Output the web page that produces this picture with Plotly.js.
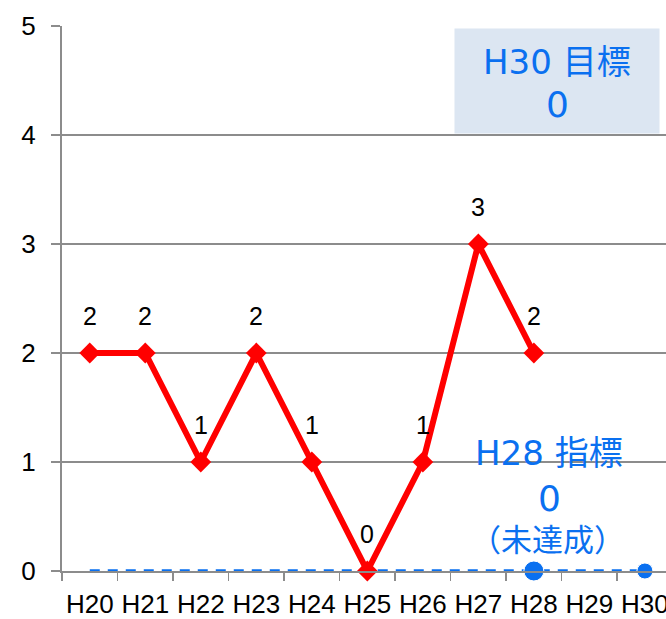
<!DOCTYPE html>
<html>
<head>
<meta charset="utf-8">
<script src="https://cdn.plot.ly/plotly-3.0.1.min.js"></script>
<style>html,body{margin:0;padding:0;background:#fff;overflow:hidden}#chart{width:666px;height:619px}</style>
</head>
<body>
<div id="chart"></div>
<script>
// Data
const categories = ['H20','H21','H22','H23','H24','H25','H26','H27','H28','H29','H30'];
const actualYears = ['H20','H21','H22','H23','H24','H25','H26','H27','H28'];
const actualValues = [2, 2, 1, 2, 1, 0, 1, 3, 2];
const targetYears = ['H20','H21','H22','H23','H24','H25','H26','H27','H28','H29','H30'];
const targetValues = [0, 0, 0, 0, 0, 0, 0, 0, 0, 0, 0];
const targetMarkerSizes = [0, 0, 0, 0, 0, 0, 0, 0, 20, 0, 16];
const goalTitle = 'H30 目標';
const goalValue = '0';
const indicatorTitle = 'H28 指標';
const indicatorValue = '0';
const indicatorStatus = '（未達成）';

const blue = '#0a70f0';
const grey = '#8c8c8c';
const jp = '"DejaVu Sans", "Noto Sans CJK JP", sans-serif';
const cjk = '"Noto Sans CJK JP", sans-serif';
const latin = '"Liberation Sans", Arial, sans-serif';

const traces = [
  {
    x: targetYears, y: targetValues, type: 'scatter', mode: 'lines+markers',
    line: {color: blue, width: 3.5, dash: '10px,8px'},
    marker: {color: blue, size: targetMarkerSizes, symbol: 'circle', opacity: 1},
    hoverinfo: 'skip', cliponaxis: false
  },
  {
    x: actualYears, y: actualValues, type: 'scatter', mode: 'lines+markers',
    line: {color: '#ff0000', width: 6},
    marker: {color: '#ff0000', size: 16, symbol: 'diamond'},
    hoverinfo: 'skip', cliponaxis: false
  }
];

const annotations = actualYears.map((c, i) => ({
  x: c, y: actualValues[i], xref: 'x', yref: 'y', text: String(actualValues[i]),
  showarrow: false, yshift: 37, font: {family: latin, size: 25, color: '#000'}
}));

const gx = (557 - 62) / 604;
const ix = (549 - 62) / 604;
const py = v => (571 - v) / 545;
annotations.push({
  xref: 'paper', yref: 'paper', x: gx, y: py(81), xanchor: 'center', yanchor: 'middle',
  text: '', showarrow: false, width: 204, height: 104, bgcolor: '#dce6f2', borderpad: 0
});
annotations.push({
  xref: 'paper', yref: 'paper', x: gx, y: py(62), xanchor: 'center', yanchor: 'middle',
  text: goalTitle, showarrow: false, font: {family: jp, size: 34, color: blue}
});
annotations.push({
  xref: 'paper', yref: 'paper', x: gx, y: py(104), xanchor: 'center', yanchor: 'middle',
  text: goalValue, showarrow: false, font: {family: jp, size: 36, color: blue}
});
annotations.push({
  xref: 'paper', yref: 'paper', x: ix, y: py(453), xanchor: 'center', yanchor: 'middle',
  text: indicatorTitle, showarrow: false, font: {family: jp, size: 34, color: blue}
});
annotations.push({
  xref: 'paper', yref: 'paper', x: ix, y: py(498), xanchor: 'center', yanchor: 'middle',
  text: indicatorValue, showarrow: false, font: {family: jp, size: 36, color: blue}
});
annotations.push({
  xref: 'paper', yref: 'paper', x: (547 - 62) / 604, y: py(537), xanchor: 'center', yanchor: 'middle',
  text: indicatorStatus, showarrow: false, font: {family: cjk, size: 31, color: blue}
});

const layout = {
  width: 666, height: 619,
  margin: {l: 62, r: 0, t: 26, b: 48, pad: 0},
  paper_bgcolor: '#fff', plot_bgcolor: '#fff',
  showlegend: false,
  xaxis: {
    type: 'category', categoryarray: categories, categoryorder: 'array',
    range: [-0.5, 10.38], showgrid: false, zeroline: false,
    showline: true, linecolor: grey, linewidth: 2,
    ticks: 'outside', tickson: 'boundaries', ticklen: 8, tickcolor: grey, tickwidth: 1.5,
    ticklabelstandoff: 9, tickangle: 0,
    tickfont: {family: latin, size: 26, color: '#000'}, fixedrange: true
  },
  yaxis: {
    range: [0, 5], tickvals: [0, 1, 2, 3, 4, 5], ticktext: ['0','1','2','3','4','5'],
    showgrid: true, gridcolor: grey, gridwidth: 1.5, zeroline: false,
    showline: true, linecolor: grey, linewidth: 2,
    ticks: 'outside', ticklen: 9, tickcolor: grey, tickwidth: 1.5,
    ticklabelstandoff: 10,
    tickfont: {family: latin, size: 26, color: '#000'}, fixedrange: true
  },
  annotations: annotations
};

Plotly.newPlot('chart', traces, layout, {displayModeBar: false, staticPlot: true});
</script>
</body>
</html>
